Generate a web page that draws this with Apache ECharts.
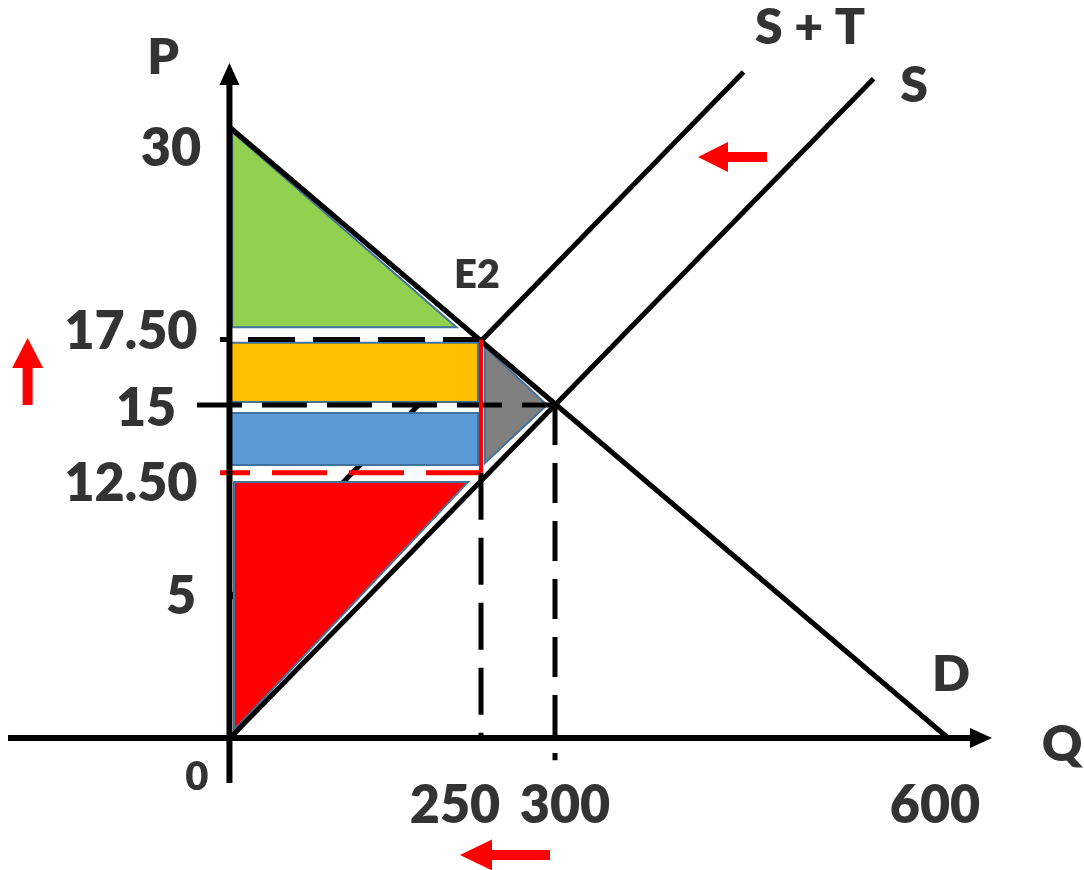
<!DOCTYPE html>
<html>
<head>
<meta charset="utf-8">
<script src="https://cdn.jsdelivr.net/npm/echarts@6/dist/echarts.min.js"></script>
<style>
  html, body { margin: 0; padding: 0; background: #fff; }
  #chart { width: 1084px; height: 870px; }
</style>
</head>
<body>
<div id="chart"></div>
<script>
// diagram units (the drawing is schematic, not to scale)
const demandLine = [[0, 27.5], [662.8, 0]];
const supplyLine = [[0, 0], [594, 29.7]];
const taxSupplyLine = [[0, 6.3], [474, 30.0]];

const qE = 300, pE = 15;          // old equilibrium
const qE2 = 231.7;                // E2 quantity
const pBuyer = 17.95, pSeller = 11.95;

const buyerPriceLine = [[-9.2, pBuyer], [qE2, pBuyer]];
const eqPriceLine = [[-30.5, pE], [qE, pE]];
const sellerPriceLine = [[-9.2, pSeller], [233.5, pSeller]];
const taxWedgeLine = [[qE2, pSeller], [qE2, pBuyer]];
const taxQtyLine = [[qE2, pSeller], [qE2, 0]];
const eqQtyLine = [[qE, pE], [qE, -1.0]];

// shaded areas
const consumerSurplus = [[2, 27.3], [2, 18.5], [209, 18.5]];
const consumerTax = [[-1.8, 17.8], [229, 17.8], [229, 15.14], [-1.8, 15.14]];
const producerTax = [[-1.8, 14.64], [229, 14.64], [229, 12.3], [-1.8, 12.3]];
const producerSurplus = [[3.7, 11.53], [219.7, 11.53], [3.7, 0.36]];
const deadweightLoss = [[235.4, 17.61], [292.6, 15], [235.4, 12.39]];

// axes and red arrows: [tail, tip]
const xAxisLine = [[-204.9, 0], [703.4, 0]];
const yAxisLine = [[-0.5, -2.03], [-0.5, 30.4]];
const priceUpArrow = [[-186.8, 15], [-186.8, 18.02]];
const supplyShiftArrow = [[495.7, 26.17], [432, 26.17]];
const qtyShiftArrow = [[295.4, -5.27], [212.3, -5.27]];

// text
const tickText = ['30', '17.50', '15', '12.50', '5', '250', '300', '600'];
const tickQ = [-54.5, -91.4, -77.5, -91.4, -45.2, 207.7, 309.2, 650.8];
const tickP = [26.53, 18.29, 14.82, 11.44, 6.35, -3.06, -3.06, -3.06];
const curveText = ['S + T', 'S', 'D', 'P', 'Q'];
const curveQ = [535.4, 631.4, 665.5, -61.8, 768];
const curveP = [31.98, 29.37, 2.84, 30.63, -0.32];
const smallText = ['0', 'E2'];
const smallQ = [-30.5, 228];
const smallP = [-1.76, 20.86];

const FONT = 'Lato, "Open Sans", sans-serif';

function lineSeries(points, color, width, dash, offset, z) {
  return {
    type: 'line', data: points, z: z, silent: true,
    showSymbol: false, symbol: 'none',
    lineStyle: { color: color, width: width, type: dash || 'solid', dashOffset: offset || 0, cap: 'butt' }
  };
}

function areaSeries(points, color) {
  return {
    type: 'custom', z: 2, silent: true, clip: false,
    data: [[0, 0]],
    renderItem: function (params, api) {
      return {
        type: 'polygon',
        shape: { points: points.map(function (p) { return api.coord(p); }) },
        style: { fill: color, stroke: '#41719C', lineWidth: 2 }
      };
    }
  };
}

function arrowSeries(pair, color, shaftW, headLen, headW, z) {
  return {
    type: 'custom', z: z, silent: true, clip: false,
    data: [[0, 0]],
    renderItem: function (params, api) {
      const a = api.coord(pair[0]), b = api.coord(pair[1]);
      const dx = b[0] - a[0], dy = b[1] - a[1];
      const len = Math.sqrt(dx * dx + dy * dy);
      const ux = dx / len, uy = dy / len, px = -uy, py = ux;
      const base = [b[0] - ux * headLen, b[1] - uy * headLen];
      const s = shaftW / 2, h = headW / 2;
      return {
        type: 'group',
        children: [{
          type: 'polygon',
          shape: { points: [
            [a[0] + px * s, a[1] + py * s], [base[0] + ux + px * s, base[1] + uy + py * s],
            [base[0] + ux - px * s, base[1] + uy - py * s], [a[0] - px * s, a[1] - py * s]
          ] },
          style: { fill: color }
        }, {
          type: 'polygon',
          shape: { points: [b, [base[0] + px * h, base[1] + py * h], [base[0] - px * h, base[1] - py * h]] },
          style: { fill: color }
        }]
      };
    }
  };
}

function labelSeries(texts, qs, ps, size) {
  return {
    type: 'scatter', z: 6, silent: true, symbolSize: 0,
    data: texts.map(function (t, i) { return [qs[i], ps[i], t]; }),
    label: {
      show: true, position: 'inside', color: '#000',
      fontSize: size, fontWeight: 800, fontFamily: FONT,
      formatter: function (p) { return p.value[2]; }
    }
  };
}

const chart = echarts.init(document.getElementById('chart'));
chart.setOption({
  backgroundColor: '#fff',
  animation: false,
  grid: { left: 0, right: 0, top: 0, bottom: 0 },
  xAxis: { type: 'value', min: -212.3, max: 788.3, show: false },
  yAxis: { type: 'value', min: -5.946, max: 33.243, show: false },
  series: [
    lineSeries(taxSupplyLine, '#000', 5, null, 0, 1),
    areaSeries(consumerSurplus, '#92D050'),
    areaSeries(consumerTax, '#FFC000'),
    areaSeries(producerTax, '#5B9BD5'),
    areaSeries(producerSurplus, '#FF0000'),
    areaSeries(deadweightLoss, '#808080'),
    lineSeries(demandLine, '#000', 5, null, 0, 3),
    lineSeries(supplyLine, '#000', 5, null, 0, 3),
    lineSeries(buyerPriceLine, '#000', 5, [47, 18], 37, 3),
    lineSeries(eqPriceLine, '#000', 5, [45, 20], 0, 3),
    lineSeries(sellerPriceLine, '#FF0000', 5, [55, 22], 25, 3),
    lineSeries(taxQtyLine, '#000', 5, [47, 18], 0, 3),
    lineSeries(eqQtyLine, '#000', 5, [40, 18], 0, 3),
    lineSeries(taxWedgeLine, '#FF0000', 4, null, 0, 4),
    arrowSeries(xAxisLine, '#000', 6, 22, 20, 4),
    arrowSeries(yAxisLine, '#000', 6, 22, 20, 4),
    arrowSeries(priceUpArrow, '#FF0000', 10, 30, 31, 5),
    arrowSeries(supplyShiftArrow, '#FF0000', 10, 30, 30, 5),
    arrowSeries(qtyShiftArrow, '#FF0000', 10, 32, 31, 5),
    labelSeries(tickText, tickQ, tickP, 52),
    labelSeries(curveText, curveQ, curveP, 50),
    labelSeries(smallText, smallQ, smallP, 40)
  ]
});
</script>
</body>
</html>
